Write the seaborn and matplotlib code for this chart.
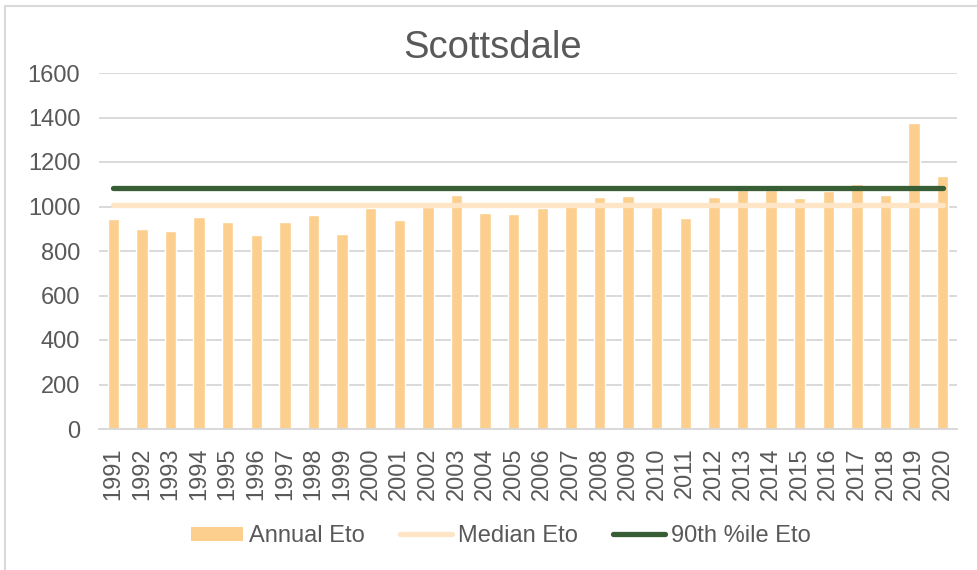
import matplotlib
matplotlib.use('Agg')
import matplotlib.pyplot as plt
import seaborn as sns
import pandas as pd
from matplotlib.patches import Patch, Rectangle
from matplotlib.lines import Line2D

# Annual reference ET (Scottsdale)
years = [str(y) for y in range(1991, 2021)]
annual_eto = [944, 901, 892, 953, 932, 871, 929, 962, 877, 995,
              941, 998, 1050, 973, 965, 995, 1012, 1041, 1047, 997,
              950, 1044, 1072, 1076, 1038, 1070, 1103, 1053, 1376, 1138]
median_eto = 1005
p90_eto = 1082

bar_color = '#FCCF8E'
median_color = '#FDE5C6'
p90_color = '#375E34'
text_color = '#595959'
grid_color = '#D9D9D9'

df = pd.DataFrame({'Year': years, 'Eto': annual_eto})

sns.set_style('white')
plt.rcParams['font.family'] = ['Liberation Sans', 'DejaVu Sans']

fig = plt.figure(figsize=(9.77, 5.70), dpi=100)
ax = fig.add_axes([99 / 977, 1 - 429 / 570, (957 - 99) / 977, (429 - 73) / 570])

sns.barplot(data=df, x='Year', y='Eto', color=bar_color, width=0.4,
            saturation=1, ax=ax, zorder=2)

xpos = list(range(len(years)))
ax.plot(xpos, [median_eto] * len(years), color=median_color, lw=3.8,
        solid_capstyle='round', zorder=3)
ax.plot(xpos, [p90_eto] * len(years), color=p90_color, lw=3.8,
        solid_capstyle='round', zorder=4)

ax.set_ylim(0, 1600)
ax.set_xlim(-0.5, len(years) - 0.5)
ax.set_yticks(range(0, 1601, 200))
ax.yaxis.grid(True, color=grid_color, lw=1.4, zorder=0)
ax.set_axisbelow(True)
for s in ['top', 'right', 'left']:
    ax.spines[s].set_visible(False)
ax.spines['bottom'].set_color(grid_color)
ax.spines['bottom'].set_linewidth(1.4)
ax.tick_params(axis='both', length=0, labelsize=17, colors=text_color)
ax.tick_params(axis='y', pad=13.5)
ax.tick_params(axis='x', pad=13)
plt.setp(ax.get_xticklabels(), rotation=90)
ax.set_xlabel('')
ax.set_ylabel('')

fig.text(493 / 977, 1 - 48 / 570, 'Scottsdale', ha='center', va='center',
         fontsize=27.5, color=text_color)

handles = [Patch(facecolor=bar_color, edgecolor='none'),
           Line2D([0], [0], color=median_color, lw=3.8, solid_capstyle='round'),
           Line2D([0], [0], color=p90_color, lw=3.8, solid_capstyle='round')]
labels = ['Annual Eto', 'Median Eto', '90th %ile Eto']
leg = fig.legend(handles, labels, loc='center', bbox_to_anchor=(501 / 977, 1 - 536 / 570),
                 ncol=3, frameon=False, fontsize=17, handlelength=2.2,
                 handleheight=0.55, handletextpad=0.25, columnspacing=1.5,
                 labelcolor=text_color)

# chart area border
fig.patches.append(Rectangle((4.5 / 977, -0.2), 2, 1.2 - 6 / 570,
                             transform=fig.transFigure, fill=False,
                             edgecolor=grid_color, lw=1.5))

fig.savefig('out.png', dpi=100)
